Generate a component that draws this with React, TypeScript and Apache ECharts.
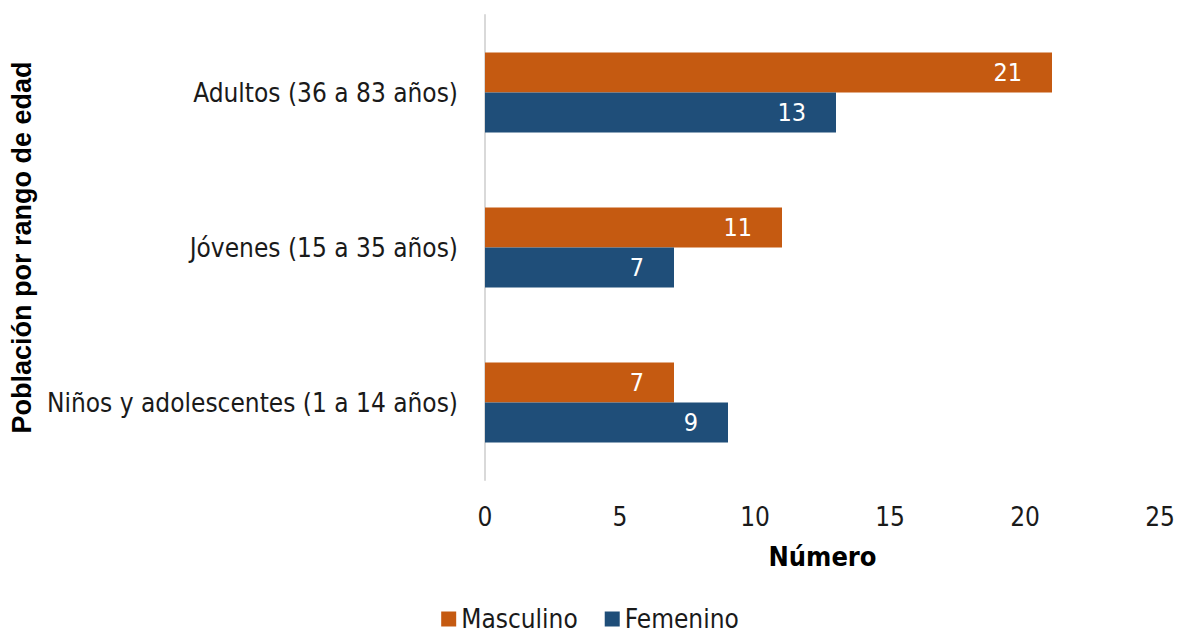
import React, { useEffect, useRef } from "react";
import * as echarts from "echarts";

const categories = [
  "Niños y adolescentes (1 a 14 años)",
  "Jóvenes (15 a 35 años)",
  "Adultos (36 a 83 años)",
];
const masculino = [7, 11, 21];
const femenino = [9, 7, 13];
const seriesNames = ["Masculino", "Femenino"];
const xTicks = { min: 0, max: 25, interval: 5 };

const FONT = "'DejaVu Sans Condensed', 'DejaVu Sans', sans-serif";

export default function App() {
  const ref = useRef<HTMLDivElement>(null);
  useEffect(() => {
    if (!ref.current) return;
    const chart = echarts.init(ref.current, undefined, { renderer: "svg" });
    const label = {
      show: true,
      position: "insideRight",
      distance: 30,
      color: "#ffffff",
      fontFamily: FONT,
      fontSize: 25,
    };
    chart.setOption({
      animation: false,
      textStyle: { fontFamily: FONT },
      grid: { left: 485, right: 20, top: 15, bottom: 159 },
      legend: {
        top: 606,
        left: "center",
        itemWidth: 15,
        itemHeight: 15,
        itemGap: 27,
        icon: "rect",
        padding: 0,
        textStyle: { fontFamily: FONT, fontSize: 26, color: "#1a1a1a", lineHeight: 26 },
        data: seriesNames,
      },
      xAxis: {
        type: "value",
        min: xTicks.min,
        max: xTicks.max,
        interval: xTicks.interval,
        splitLine: { show: false },
        axisLine: { show: false },
        axisTick: { show: false },
        axisLabel: { fontFamily: FONT, fontSize: 26, color: "#1a1a1a", margin: 24 },
        name: "Número",
        nameLocation: "middle",
        nameGap: 63,
        nameTextStyle: { fontFamily: FONT, fontSize: 27, fontWeight: "bold", color: "#000" },
      },
      yAxis: {
        type: "category",
        data: categories,
        axisLine: { show: true, lineStyle: { color: "#d9d9d9", width: 2 } },
        axisTick: { show: false },
        axisLabel: { fontFamily: FONT, fontSize: 26, color: "#1a1a1a", margin: 27 },
        name: "Población por rango de edad",
        nameLocation: "middle",
        nameGap: 450,
        nameRotate: 90,
        nameTextStyle: {
          fontFamily: "'Liberation Sans', Arial, sans-serif",
          fontSize: 27,
          fontWeight: "bold",
          color: "#000",
        },
      },
      series: [
        {
          name: seriesNames[0],
          type: "bar",
          data: masculino,
          barWidth: 40,
          barGap: "0%",
          itemStyle: { color: "#c55a11" },
          label,
        },
        {
          name: seriesNames[1],
          type: "bar",
          data: femenino,
          barWidth: 40,
          barGap: "0%",
          itemStyle: { color: "#1f4e79" },
          label,
        },
      ],
    });
    return () => chart.dispose();
  }, []);
  return (
    <div
      ref={ref}
      style={{ position: "absolute", left: 0, top: 0, width: 1180, height: 639 }}
    />
  );
}
